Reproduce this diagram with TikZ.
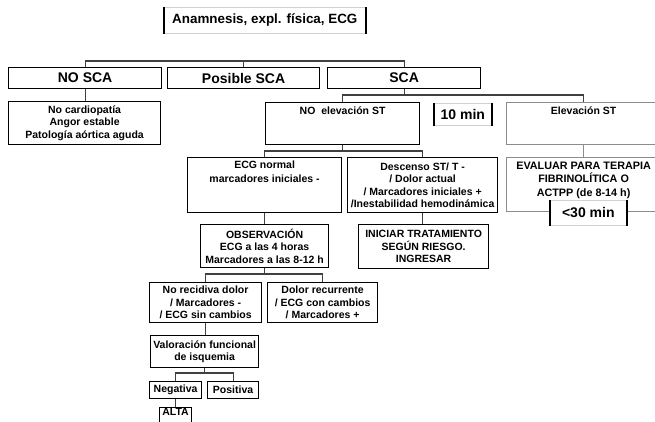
\documentclass[tikz,border=0pt]{standalone}
\usepackage{fontspec}
\setmainfont{Liberation Sans}
\newcommand{\bx}[4]{\begin{minipage}[t][#2][#3]{#1}\centering #4\end{minipage}}
\tikzset{
  box/.style={draw=black, line width=1.2pt, fill=white, inner sep=0pt, anchor=north west,
    font=\bfseries\fontsize{10.5}{12.5}\selectfont},
  greybox/.style={box, draw=black!45},
  bigbox/.style={box, font=\bfseries\fontsize{14}{16}\selectfont},
  tagbox/.style={draw=black!18, line width=0.6pt, fill=white, inner sep=0pt, anchor=north west},
  bar/.style={draw=black, line width=2pt},
  conn/.style={draw=black!75, line width=1.1pt},
  greyconn/.style={draw=black!45, line width=1.1pt},
}
\begin{document}
\begin{tikzpicture}[x=1pt, y=-1pt]
\useasboundingbox (0,0) rectangle (655,422);

% header
\node[tagbox, font=\bfseries\fontsize{13.4}{15}\selectfont] (anam) at (164,7)
  {\bx{201pt}{26pt}{c}{Anamnesis, expl. física, ECG}};
\draw[bar] (anam.north west) -- (anam.south west);
\draw[bar] (anam.north east) -- (anam.south east);

% first level
\node[bigbox] (nosca) at (8,67) {\bx{153pt}{21pt}{c}{NO SCA}};
\node[bigbox] (posible) at (167,67) {\bx{152pt}{21pt}{c}{Posible SCA}};
\node[bigbox] (sca) at (327,67) {\bx{153pt}{21pt}{c}{SCA}};

\node[box] (nocard) at (8,101)
  {\bx{152pt}{43pt}{c}{No cardiopatía\\Angor estable\\Patología aórtica aguda}};

% SCA branch
\node[box] (noelev) at (265,102) {\bx{154pt}{42pt}{t}{\vspace*{4pt}NO\ \ elevación ST}};
\node[tagbox, font=\bfseries\fontsize{14}{16}\selectfont] (tenmin) at (434,103)
  {\bx{57pt}{22pt}{c}{10 min}};
\draw[bar, line width=2.6pt] (tenmin.north west) -- (tenmin.south west);
\draw[bar] (tenmin.north east) -- (tenmin.south east);
\node[greybox] (elev) at (506,102) {\bx{154pt}{42pt}{t}{\vspace*{4pt}Elevación ST}};

\node[box] (ecgnorm) at (187,157)
  {\bx{154pt}{55pt}{t}{\vspace*{3pt}ECG normal\\[1.5pt]marcadores iniciales -}};
\node[box] (desc) at (347,157)
  {\bx{150pt}{55pt}{c}{Descenso ST/ T -\\/ Dolor actual\\/ Marcadores iniciales +\\/Inestabilidad hemodinámica}};
\node[greybox, font=\bfseries\fontsize{10.8}{13.5}\selectfont] (evaluar) at (506,157)
  {\bx{154pt}{54pt}{t}{\vspace*{4pt}EVALUAR PARA TERAPIA\\FIBRINOLÍTICA O\\ACTPP (de 8-14 h)}};
\node[tagbox, font=\bfseries\fontsize{14}{16}\selectfont] (thirty) at (550,200)
  {\bx{76pt}{25pt}{c}{<30 min}};
\draw[bar] (thirty.north west) -- (thirty.south west);
\draw[bar] (thirty.north east) -- (thirty.south east);

\node[box] (obs) at (200,224)
  {\bx{128pt}{43pt}{c}{OBSERVACIÓN\\ECG a las 4 horas\\Marcadores a las 8-12 h}};
\node[box] (iniciar) at (358,224)
  {\bx{130pt}{44pt}{c}{INICIAR TRATAMIENTO\\SEGÚN RIESGO.\\INGRESAR}};

\node[box] (norecid) at (149,282)
  {\bx{112pt}{40pt}{c}{No recidiva dolor\\/ Marcadores -\\/ ECG sin cambios}};
\node[box] (dolor) at (267,282)
  {\bx{110pt}{40pt}{c}{Dolor recurrente\\/ ECG con cambios\\/ Marcadores +}};

\node[box] (valor) at (150,335)
  {\bx{108pt}{32pt}{c}{Valoración funcional\\de isquemia}};
\node[box] (neg) at (149,381) {\bx{52pt}{17pt}{c}{Negativa}};
\node[box] (pos) at (207,381) {\bx{51pt}{17pt}{c}{Positiva}};
\node[box] (alta) at (159,407) {\bx{32pt}{20pt}{t}{\vspace*{1pt}ALTA}};

% connectors
\draw[conn] (nosca.north) -- ++(0,-6) -| (sca.north);
\draw[conn] (posible.north) -- ++(0,-6);
\draw[conn] (nosca.south) -- (nosca.south |- nocard.north);
\draw[conn] (sca.south) -- ++(0,7);
\draw[conn] (noelev.north) -- ++(0,-7) -| (elev.north);
\draw[conn] (noelev.south) -- ++(0,7);
\draw[conn] (ecgnorm.north) -- ++(0,-6) -| (desc.north);
\draw[greyconn] (elev.south) -- (evaluar.north);
\draw[conn] (ecgnorm.south) -- (ecgnorm.south |- obs.north);
\draw[conn] (desc.south) -- (desc.south |- iniciar.north);
\draw[conn] (obs.south) -- ++(0,7);
\draw[conn] (norecid.north) -- ++(0,-8) -| (dolor.north);
\draw[conn] (norecid.south) -- (norecid.south |- valor.north);
\draw[conn] (valor.south) -- ++(0,6);
\draw[conn] (neg.north) -- ++(0,-8) -| (pos.north);
\draw[conn] (neg.south) -- (neg.south |- alta.north);
\end{tikzpicture}
\end{document}
